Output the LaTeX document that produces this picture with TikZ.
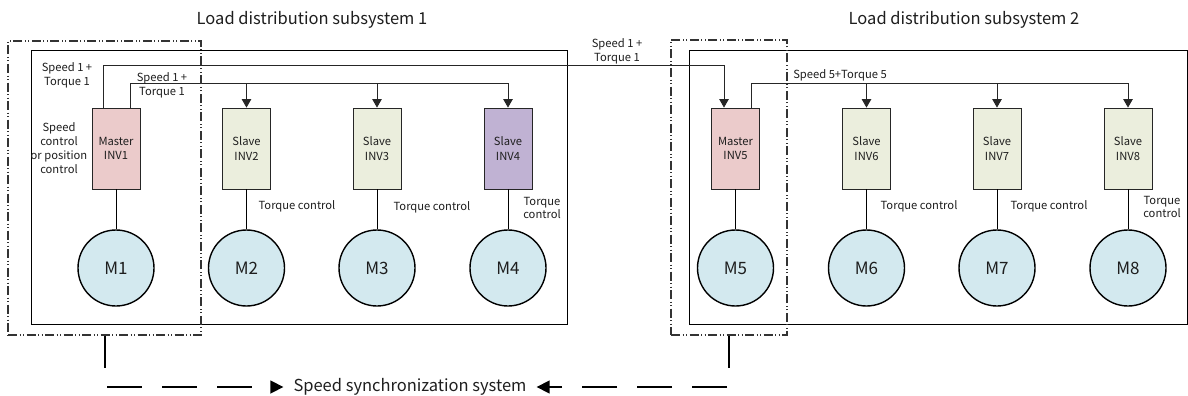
\documentclass[tikz,border=0pt]{standalone}
\usepackage{fontspec}
\setmainfont{Noto Sans CJK SC}
\usetikzlibrary{arrows.meta,calc}
\definecolor{masterc}{HTML}{EBCBCB}
\definecolor{slavec}{HTML}{EBEEDD}
\definecolor{slavep}{HTML}{C0B2D3}
\definecolor{motorc}{HTML}{D3E9EF}
\definecolor{txt}{HTML}{1E1E1E}
\begin{document}
\begin{tikzpicture}[x=1pt,y=-1pt,
  every node/.style={text=txt},
  inv/.style={draw=black!85,line width=0.8pt,minimum width=48pt,minimum height=81pt,inner sep=0pt,align=center,font=\fontsize{11.2}{14.5}\selectfont},
  motor/.style={circle,draw=black,line width=1.4pt,fill=motorc,minimum size=76pt,inner sep=0pt,font=\fontsize{17}{19}\selectfont},
  sbox/.style={draw=black,line width=0.9pt,inner sep=0pt},
  ddbox/.style={draw=black!80,line width=1.2pt,inner sep=0pt,dash pattern=on 9pt off 2.5pt on 1pt off 2.5pt on 1pt off 2.5pt},
  lbl/.style={inner sep=0pt,align=center,font=\fontsize{11.2}{13.8}\selectfont},
  title/.style={inner sep=0pt,font=\fontsize{16.5}{19}\selectfont},
  conn/.style={draw=black!85,line width=0.9pt},
  arr/.style={conn,-{Triangle[length=8.5pt,width=9.5pt]}},
  link/.style={draw=black,line width=0.7pt},
  sync/.style={draw=black,line width=1.6pt,dash pattern=on 35pt off 20pt},
  syncv/.style={draw=black,line width=1.6pt}
]
\useasboundingbox (0,0) rectangle (1188,396);

% titles
\node[title] (t1) at (312,20) {Load distribution subsystem 1};
\node[title] (t2) at (964,20) {Load distribution subsystem 2};

% solid boxes
\node[sbox,minimum width=536pt,minimum height=274pt] (box1) at (299,187) {};
\node[sbox,minimum width=498pt,minimum height=274pt] (box2) at (938,187) {};

% inverters
\node[inv,fill=masterc] (inv1) at (116,148.5) {Master\\INV1};
\node[inv,fill=slavec] (inv2) at (246.5,148.5) {Slave\\INV2};
\node[inv,fill=slavec] (inv3) at (377,148.5) {Slave\\INV3};
\node[inv,fill=slavep] (inv4) at (508,148.5) {Slave\\INV4};
\node[inv,fill=masterc] (inv5) at (735.5,148.5) {Master\\INV5};
\node[inv,fill=slavec] (inv6) at (866.5,148.5) {Slave\\INV6};
\node[inv,fill=slavec] (inv7) at (997,148.5) {Slave\\INV7};
\node[inv,fill=slavec] (inv8) at (1128,148.5) {Slave\\INV8};

% motors
\node[motor] (m1) at (116,268) {M1};
\node[motor] (m2) at (246.5,268) {M2};
\node[motor] (m3) at (377,268) {M3};
\node[motor] (m4) at (508,268) {M4};
\node[motor] (m5) at (735.5,268) {M5};
\node[motor] (m6) at (866.5,268) {M6};
\node[motor] (m7) at (997,268) {M7};
\node[motor] (m8) at (1128,268) {M8};

\foreach \i in {1,...,8}{\draw[link] (inv\i.south) -- (m\i.north);}

% connectors
\draw[arr] ([xshift=-13pt]inv1.north) -- ++(0,-42) -| ([xshift=-11.5pt]inv5.north);
\draw[arr] ([xshift=14.5pt]inv1.north) -- ++(0,-24) coordinate (bus1) -| (inv4.north);
\draw[arr] (inv2.north |- bus1) -- (inv2.north);
\draw[arr] (inv3.north |- bus1) -- (inv3.north);
\draw[arr] ([xshift=15.5pt]inv5.north) -- ++(0,-24) coordinate (bus2) -| (inv8.north);
\draw[arr] (inv6.north |- bus2) -- (inv6.north);
\draw[arr] (inv7.north |- bus2) -- (inv7.north);

% labels
\node[lbl] (l1) at (67,75) {Speed 1 +\\Torque 1};
\node[lbl] (l2) at (162,85) {Speed 1 +\\Torque 1};
\node[lbl] (l3) at (617,51) {Speed 1 +\\Torque 1};
\node[lbl] (l4) at (840,75) {Speed 5+Torque 5};
\node[lbl] (l5) at (59,148) {Speed\\control\\or position\\control};
\node[lbl] (tc2) at (297,206) {Torque control};
\node[lbl] (tc3) at (432,207) {Torque control};
\node[lbl] (tc4) at (542,208) {Torque\\control};
\node[lbl] (tc6) at (919,206) {Torque control};
\node[lbl] (tc7) at (1049,206) {Torque control};
\node[lbl] (tc8) at (1162,207) {Torque\\control};

% dash-dot boxes
\node[ddbox,minimum width=193pt,minimum height=294pt] (dd1) at (104.5,188) {};
\node[ddbox,minimum width=116pt,minimum height=295pt] (dd2) at (729,187.5) {};

% synchronization
\coordinate (s1) at (105,368);
\coordinate (s2) at (729,368);
\draw[syncv] (dd1.south -| s1) -- (s1);
\draw[syncv] (dd2.south) -- (s2);
\node[title,inner xsep=10pt] (sync) at (410,387) {Speed synchronization system};
\coordinate (d1) at (107,387);
\coordinate (d2) at (727,387);
\draw[sync,-{Triangle[length=13pt,width=13pt]}] (d1) -- (sync.west);
\draw[sync,-{Triangle[length=13pt,width=13pt]}] (d2) -- (sync.east);
\end{tikzpicture}
\end{document}
